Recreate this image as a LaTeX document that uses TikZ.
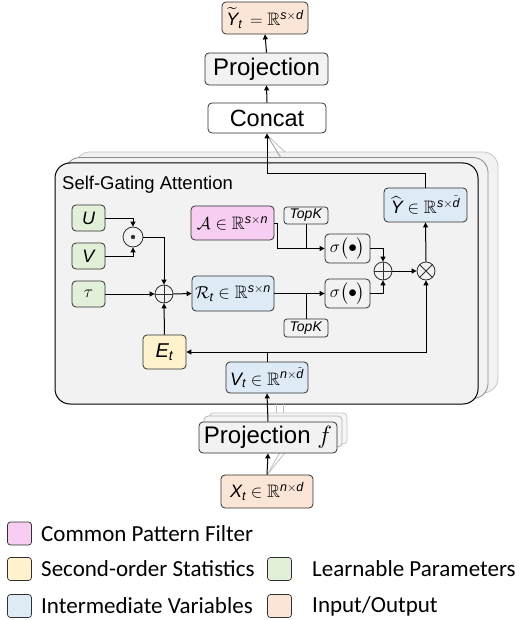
\documentclass[tikz,border=0pt]{standalone}
\usepackage{amsmath,amssymb}
\usepackage{fontspec}
\setmainfont{Liberation Sans}
\newfontfamily\legendfont{Carlito}
\usetikzlibrary{arrows.meta}
\definecolor{cpeach}{HTML}{FBE5D6}
\definecolor{cpink}{HTML}{F7CEF1}
\definecolor{cblue}{HTML}{DEEBF7}
\definecolor{cyellow}{HTML}{FFF2CC}
\definecolor{cgreen}{HTML}{E2F0D9}
\definecolor{cbg}{HTML}{F2F2F2}
\definecolor{cline}{HTML}{303030}
\newcommand\fsz[1]{\fontsize{#1}{#1}\selectfont}
\newcommand\si[1]{\textit{#1}}
\begin{document}
\begin{tikzpicture}[x=1pt,y=-1pt,
  box/.style={draw=cline, line width=0.8pt, rounded corners=4pt, inner sep=0pt, font=\fsz{18}},
  arr/.style={line width=1pt, -{Triangle[length=5pt,width=5pt]}},
  ln/.style={line width=1pt},
  op/.style={circle, draw=cline, line width=0.8pt, fill=cbg, inner sep=0pt, minimum size=18pt},
  sgabox/.style={draw, rounded corners=15pt, fill=cbg, inner sep=0pt, minimum width=423pt, minimum height=241pt},
  projbox/.style={box, fill=cbg, font=\fsz{24}, minimum width=138pt, minimum height=31pt},
  leg/.style={draw=cline, line width=0.7pt, rounded corners=3pt, minimum width=24pt, minimum height=23pt, inner sep=0pt},
  legtext/.style={anchor=west, inner sep=0pt, font=\legendfont\fsz{23}},
  ghost/.style={draw=gray!50, line width=0.8pt}
]
\useasboundingbox (0,0) rectangle (531,620);

% stacked self-gating attention blocks
\node[sgabox, draw=gray!45, line width=0.8pt] (sgab) at (286.5,272.5) {};
\node[sgabox, draw=gray!90, line width=0.8pt] (sgaa) at (276.5,278) {};
\node[sgabox, draw=black, line width=1pt] (sga) at (266.5,283.5) {};
\node[anchor=west, inner sep=0pt, font=\fsz{18.5}] (sgalabel) at (62,185) {Self-Gating Attention};

% ghost lines to the back copies
\draw[ghost] (267,135) -- (285,152);
\draw[ghost, draw=gray!80] (267,135) -- (281,158);
\draw[ghost] (276,404) -- (276,418);
\draw[ghost] (283,404) -- (283,415);

% projection f (stacked)
\node[projbox, draw=gray!45, fill=cbg!70] (pfb) at (278,428.5) {};
\node[projbox, draw=gray!60, fill=cbg!85] (pfa) at (273,431.5) {};
\draw[ghost] (267,475) -- (283,447);
\draw[ghost] (267,475) -- (292,444);
\node[projbox] (pf) at (268,437.5) {Projection $f$};

% top part
\node[box, fill=cpeach, minimum width=86pt, minimum height=32pt] (Yt) at (265,18) {$\widetilde{\si{Y}}_{\si{t}}\, = \mathbb{R}^{\si{s}\times \si{d}}$};
\node[box, fill=cbg, font=\fsz{24}, minimum width=123pt, minimum height=32pt] (proj) at (266.5,69) {Projection};
\node[box, fill=white, font=\fsz{23.5}, minimum width=118pt, minimum height=30pt] (concat) at (267,118) {Concat};

% learnable parameters
\node[box, fill=cgreen, minimum width=33pt, minimum height=26pt] (U) at (88.5,218) {$\si{U}$};
\node[box, fill=cgreen, minimum width=33pt, minimum height=26pt] (V) at (88.5,256) {$\si{V}$};
\node[box, fill=cgreen, minimum width=33pt, minimum height=26pt] (tau) at (88.5,294) {$\tau$};

% operators
\node[op, minimum size=20pt] (dot) at (133,237) {};
\fill[cline] (dot.center) circle (2.2pt);
\node[op] (p1) at (164,294) {};
\draw[line width=0.8pt, cline] (p1.north) -- (p1.south) (p1.west) -- (p1.east);
\node[op] (p2) at (383,271) {};
\draw[line width=0.8pt, cline] (p2.north) -- (p2.south) (p2.west) -- (p2.east);
\node[op] (mul) at (426,271) {};
\draw[line width=0.8pt, cline] (mul.north west) -- (mul.south east) (mul.north east) -- (mul.south west);

% variables
\node[box, fill=cpink, minimum width=83pt, minimum height=34pt] (A) at (232.5,223) {$\mathcal{A}\in\mathbb{R}^{\si{s}\times \si{n}}$};
\node[box, fill=cblue, minimum width=82pt, minimum height=35pt] (R) at (233,293.5) {$\mathcal{R}_{\si{t}}\in\mathbb{R}^{\si{s}\times \si{n}}$};
\node[box, fill=cbg, font=\fsz{14}, minimum width=44pt, minimum height=17pt, rounded corners=3pt] (K1) at (306,215.5) {\si{TopK}};
\node[box, fill=cbg, font=\fsz{14}, minimum width=44pt, minimum height=18pt, rounded corners=3pt] (K2) at (306,328) {\si{TopK}};
\node[box, fill=cbg, minimum width=45pt, minimum height=29pt] (s1) at (347.5,248.5) {$\sigma\bigl(\bullet\bigr)$};
\node[box, fill=cbg, minimum width=45pt, minimum height=29pt] (s2) at (347.5,293.5) {$\sigma\bigl(\bullet\bigr)$};
\node[box, fill=cblue, minimum width=83pt, minimum height=34pt] (Yh) at (425.5,205) {$\widehat{\si{Y}}\in\mathbb{R}^{\si{s}\times \tilde{\si{d}}}$};
\node[box, fill=cyellow, font=\fsz{20}, minimum width=43pt, minimum height=34pt] (E) at (164.5,352) {$\si{E}_{\si{t}}$};
\node[box, fill=cblue, minimum width=82pt, minimum height=31pt] (Vt) at (267,377.5) {$\si{V}_{\si{t}}\in\mathbb{R}^{\si{n}\times \tilde{\si{d}}}$};
\node[box, fill=cpeach, minimum width=92pt, minimum height=33pt] (Xt) at (267,491.5) {$\si{X}_{\si{t}}\in\mathbb{R}^{\si{n}\times \si{d}}$};

% connectors
\draw[arr] (U.east) -| (dot.north);
\draw[arr] (V.east) -| (dot.south);
\draw[arr] (dot.east) -| (p1.north);
\draw[arr] (tau.east) -- (p1.west);
\draw[arr] (E.north) -- (p1.south);
\draw[arr] (p1.east) -- (R.west);
\draw[arr] (A.east) -- ++(3,0) |- (s1.west);
\draw[ln] (K1.south) -- (K1.south |- s1.west);
\draw[arr] (R.east) -- (s2.west);
\draw[ln] (K2.north) -- (K2.north |- s2.west);
\draw[arr] (s1.east) -| (p2.north);
\draw[arr] (s2.east) -| (p2.south);
\draw[arr] (p2.east) -- (mul.west);
\draw[arr] (mul.north) -- (Yh.south);
\draw[arr] (Yh.north) -- ++(0,-14) -| (concat.south);
\coordinate (j) at (Vt.north |- E.east);
\draw[ln] (Vt.north) -- (j);
\draw[arr] (j) -- (E.east);
\draw[arr] (j) -| (mul.south);
\draw[arr] (pf.north) -- (Vt.south);
\draw[arr] (Xt.north) -- (pf.south);
\draw[arr] (concat.north) -- (proj.south);
\draw[arr] (proj.north) -- (Yt.south);

% legend
\node[leg, fill=cpink] (l1) at (19.5,533.5) {};
\node[legtext] (t1) at (41,533.5) {Common Pattern Filter};
\node[leg, fill=cyellow] (l2) at (19.5,569) {};
\node[legtext] (t2) at (41,569) {Second-order Statistics};
\node[leg, fill=cblue] (l3) at (19.5,606) {};
\node[legtext] (t3) at (41,606) {Intermediate Variables};
\node[leg, fill=cgreen] (l4) at (279.5,569) {};
\node[legtext] (t4) at (312,569) {Learnable Parameters};
\node[leg, fill=cpeach] (l5) at (279.5,606) {};
\node[legtext] (t5) at (312,606) {Input/Output};
\end{tikzpicture}
\end{document}
